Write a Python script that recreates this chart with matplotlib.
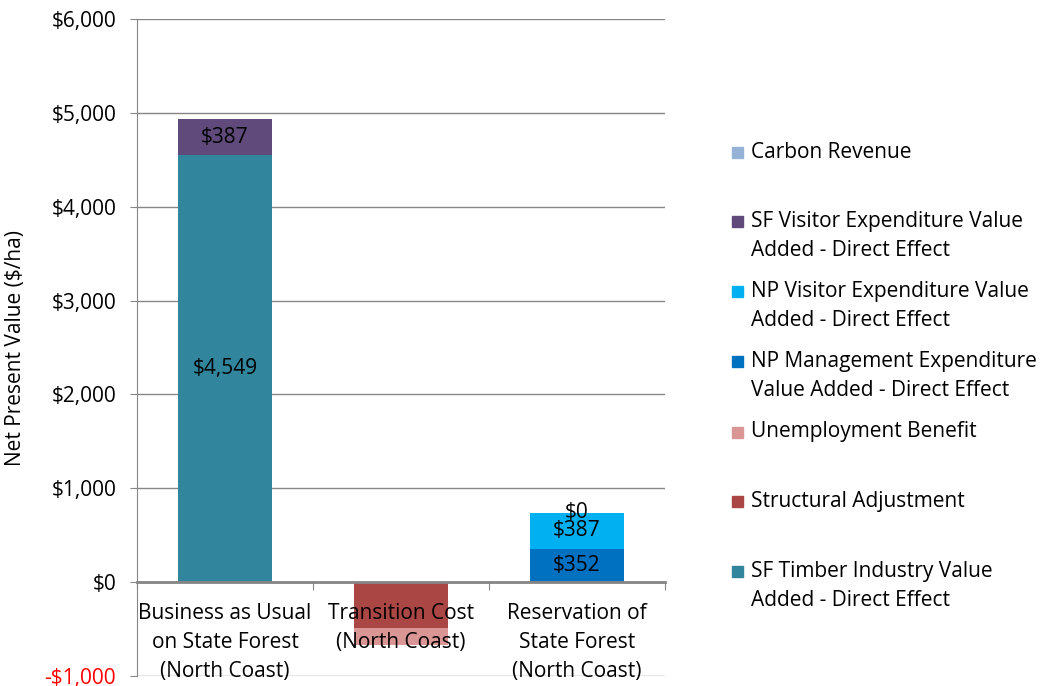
import numpy as np
import matplotlib
matplotlib.use('Agg')
import matplotlib.pyplot as plt
from matplotlib.patches import Rectangle

plt.rcParams['font.family'] = ['Open Sans', 'DejaVu Sans']

categories = ['Business as Usual\non State Forest\n(North Coast)',
              'Transition Cost\n(North Coast)',
              'Reservation of\nState Forest\n(North Coast)']

# stack order bottom -> top
series_names = ['SF Timber Industry Value\nAdded - Direct Effect',
                'Structural Adjustment',
                'Unemployment Benefit',
                'NP Management Expenditure\nValue Added - Direct Effect',
                'NP Visitor Expenditure Value\nAdded - Direct Effect',
                'SF Visitor Expenditure Value\nAdded - Direct Effect',
                'Carbon Revenue']
sf_timber = [4549, 0, 0]
structural = [0, -490, 0]
unemployment = [0, -182, 0]
np_mgmt = [0, 0, 352]
np_visitor = [0, 0, 387]
sf_visitor = [387, 0, 0]
carbon = [0, 0, 0]
series_vals = [sf_timber, structural, unemployment, np_mgmt, np_visitor, sf_visitor, carbon]
colors = ['#31859C', '#AA4643', '#DA9694', '#0070C0', '#00B0F0', '#604A7B', '#95B3D7']

# which (series, category) get a data label
show_label = {(0, 0), (5, 0), (3, 2), (4, 2), (6, 2)}

yticks = [-1000, 0, 1000, 2000, 3000, 4000, 5000, 6000]

FS = 15

fig = plt.figure(figsize=(10.46, 6.86), dpi=100)
ax = fig.add_axes([137/1046, 10/686, (665-137)/1046, (676-19)/686])

x = np.arange(len(categories))
pos_base = np.zeros(len(categories))
neg_base = np.zeros(len(categories))
width = 0.535
for i, vals in enumerate(series_vals):
    vals = np.array(vals, dtype=float)
    bottoms = np.where(vals >= 0, pos_base, neg_base)
    ax.bar(x, vals, width, bottom=bottoms, color=colors[i], zorder=2)
    for j in range(len(categories)):
        if (i, j) in show_label:
            ax.text(x[j], bottoms[j] + vals[j] / 2, f'${vals[j]:,.0f}',
                    ha='center', va='center', fontsize=FS, zorder=3)
    pos_base = pos_base + np.where(vals >= 0, vals, 0)
    neg_base = neg_base + np.where(vals < 0, vals, 0)

ax.set_xlim(-0.5, 2.5)
ax.set_ylim(-1000, 6000)
ax.set_yticks(yticks)
ax.set_yticklabels([f'-${-v:,.0f}' if v < 0 else f'${v:,.0f}' for v in yticks], fontsize=FS)
ax.get_yticklabels()[0].set_color('red')
ax.yaxis.grid(True, color='#868686', linewidth=1)
ax.set_axisbelow(True)
ax.tick_params(axis='y', length=5, color='#868686', pad=10)

ax.spines['bottom'].set_position(('data', 0))
ax.spines['bottom'].set_color('#868686')
ax.spines['bottom'].set_linewidth(2)
ax.spines['bottom'].set_zorder(4)
ax.spines['left'].set_color('#868686')
ax.spines['top'].set_visible(False)
ax.spines['right'].set_visible(False)

ax.set_xticks([-0.5, 0.5, 1.5, 2.5])
ax.set_xticklabels([])
ax.tick_params(axis='x', which='major', length=6, color='#868686', direction='out')
ax.set_xticks(x, minor=True)
ax.set_xticklabels(categories, minor=True, fontsize=FS, linespacing=1.5)
ax.tick_params(axis='x', which='minor', length=0, pad=15)
ax.xaxis.set_zorder(5)

ax.set_ylabel('Net Present Value ($/ha)', fontsize=FS)
ax.yaxis.set_label_coords(-0.21, 0.5)

# legend, drawn by hand (reverse stack order)
leg_y = [152, 221, 291, 361, 432, 501, 571]
for k, idx in enumerate(range(len(series_names) - 1, -1, -1)):
    yc = leg_y[k]
    fig.add_artist(Rectangle((732/1046, 1 - (yc + 6)/686), 11/1046, 11/686,
                             transform=fig.transFigure, color=colors[idx]))
    for n, line in enumerate(series_names[idx].split('\n')):
        fig.text(751/1046, 1 - (yc + n*29)/686, line, fontsize=FS, va='center')

fig.savefig('out.png', dpi=100)
